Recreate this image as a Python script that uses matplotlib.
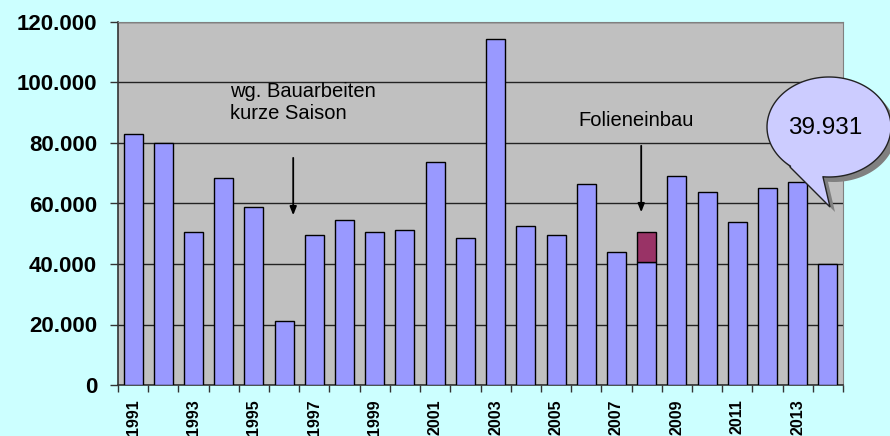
import matplotlib
matplotlib.use("Agg")
import matplotlib.pyplot as plt
import numpy as np
from matplotlib.path import Path
from matplotlib.patches import PathPatch
from matplotlib.ticker import FuncFormatter, FixedLocator

# ---- data ----
years = list(range(1991, 2015))
values = [83000, 80000, 50500, 68300, 58700, 21000, 49500, 54700, 50600, 51300,
          73600, 48500, 114400, 52700, 49500, 66300, 43900, 40600, 69100, 63700,
          53900, 65200, 67000, 39931]
extra_year = 2008
extra_value = 10000
y_ticks = [0, 20000, 40000, 60000, 80000, 100000, 120000]
callout_text = "39.931"
note1 = "wg. Bauarbeiten\nkurze Saison"
note2 = "Folieneinbau"

plt.rcParams['font.family'] = ['Liberation Sans', 'DejaVu Sans']

W, H = 890, 436
fig = plt.figure(figsize=(W / 100, H / 100), dpi=100, facecolor='#CCFFFF')
ax = fig.add_axes([118 / W, 1 - 385 / H, (843 - 118) / W, (385 - 22) / H])
ax.set_facecolor('#C0C0C0')

x = np.arange(len(years))
ax.bar(x, values, width=0.63, color='#9999FF', edgecolor='black', linewidth=1, zorder=3)
ei = years.index(extra_year)
ax.bar([x[ei]], [extra_value], bottom=[values[ei]], width=0.63, color='#993366',
       edgecolor='black', linewidth=1, zorder=3)

ax.set_xlim(-0.5, len(years) - 0.5)
ax.set_ylim(0, 120000)
ax.set_yticks(y_ticks)
ax.yaxis.set_major_formatter(FuncFormatter(lambda v, p: f"{int(v):,}".replace(",", ".")))
ax.grid(axis='y', color='#222222', linewidth=1, zorder=1)
ax.set_axisbelow(True)

# x ticks: labels at odd years (centres), tick marks at boundaries
lab_idx = [i for i, yv in enumerate(years) if yv % 2 == 1]
ax.set_xticks(lab_idx)
ax.set_xticklabels([str(years[i]) for i in lab_idx], rotation=90, fontsize=11.5,
                   fontweight='bold', va='top')
ax.tick_params(axis='x', which='major', length=0, pad=10.5)
ax.xaxis.set_minor_locator(FixedLocator(np.arange(-0.5, len(years), 1.0)))
ax.tick_params(axis='x', which='minor', length=5, width=1, color='#333333', direction='out')
ax.tick_params(axis='y', which='major', length=6, width=1, color='#333333', direction='out',
               pad=9, labelsize=16)
for lbl in ax.get_yticklabels():
    lbl.set_fontweight('bold')

for s in ['top', 'right']:
    ax.spines[s].set_color('#808080')
for s in ['left', 'bottom']:
    ax.spines[s].set_color('#333333')
    ax.spines[s].set_linewidth(1.2)

# annotations
ax.text(3.21, 100200, note1, fontsize=14.5, va='top', ha='left', linespacing=1.2, zorder=5)
ax.annotate('', xy=(5.3, 55200), xytext=(5.3, 76000),
            arrowprops=dict(arrowstyle='-|>,head_length=0.5,head_width=0.2', color='black', lw=1.3),
            zorder=5)
ax.text(14.73, 85600, note2, fontsize=14.5, va='baseline', ha='left', zorder=5)
ax.annotate('', xy=(16.82, 56200), xytext=(16.82, 80000),
            arrowprops=dict(arrowstyle='-|>,head_length=0.5,head_width=0.2', color='black', lw=1.3),
            zorder=5)

# speech bubble callout (figure pixel geometry)
cx, cy, a, b = 829, 127, 62, 50
p1 = (790, 167)
tip = (830, 207)
p2 = (823, 177)
ang2 = np.degrees(np.arctan2((p2[1] - cy) / b, (p2[0] - cx) / a))
ang1 = np.degrees(np.arctan2((p1[1] - cy) / b, (p1[0] - cx) / a)) - 360
th = np.radians(np.linspace(ang2, ang1, 200))
pts = [(cx + a * np.cos(t), cy + b * np.sin(t)) for t in th]
pts += [p1, tip, p2]


def to_fig(pp, dx=0, dy=0):
    return [((px + dx) / W, 1 - (py + dy) / H) for px, py in pp]


def make_path(pp):
    verts = pp + [pp[0]]
    codes = [Path.MOVETO] + [Path.LINETO] * (len(pp) - 1) + [Path.CLOSEPOLY]
    return Path(verts, codes)


shadow = PathPatch(make_path(to_fig(pts, 5, 5)), facecolor='#808080', edgecolor='none',
                   transform=fig.transFigure, zorder=10)
bubble = PathPatch(make_path(to_fig(pts)), facecolor='#CCCCFF', edgecolor='#222222', lw=1,
                   transform=fig.transFigure, zorder=11)
fig.patches.extend([shadow, bubble])
fig.text(825 / W, 1 - 128 / H, callout_text, fontsize=17.5, ha='center', va='center', zorder=12)

fig.savefig('out.png', dpi=100, facecolor=fig.get_facecolor())
